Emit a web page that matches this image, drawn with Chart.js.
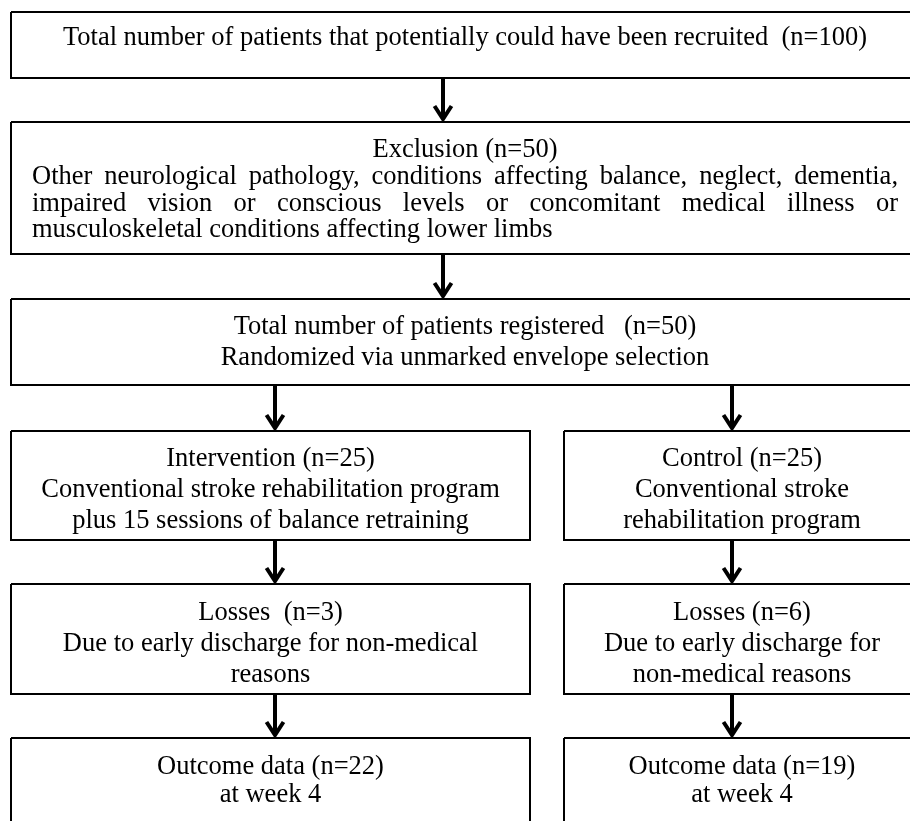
<!DOCTYPE html>
<html><head><meta charset="utf-8">
<script src="https://cdn.jsdelivr.net/npm/chart.js@4.4.1/dist/chart.umd.min.js"></script>
<style>html,body{margin:0;padding:0;background:#fff;overflow:hidden}#wrap{width:910px;height:821px;position:relative}</style>
</head><body><div id="wrap"><canvas id="c" width="910" height="821"></canvas></div>
<script>
// ---------- data ----------
const totalN = 100;
const excludedN = 50;
const registeredN = 50;
const armNames = ['Intervention', 'Control'];
const allocatedN = [25, 25];
const lossesN = [3, 6];
const outcomeN = [22, 19];
const exclusionReasons = 'Other neurological pathology, conditions affecting balance, neglect, dementia, impaired vision or conscious levels or concomitant medical illness or musculoskeletal conditions affecting lower limbs';
const armPrograms = [
  ['Conventional stroke rehabilitation program', 'plus 15 sessions of balance retraining'],
  ['Conventional stroke', 'rehabilitation program']
];
const lossReasons = [
  ['Due to early discharge for non-medical', 'reasons'],
  ['Due to early discharge for', 'non-medical reasons']
];
const outcomeTime = 'at week 4';

// ---------- layout (diagram units on 0..910 x 0..821 scales) ----------
const FONT = '26.5px "Liberation Serif", "Times New Roman", serif';
const colL = {l: 11, r: 530, cx: 270.5, ax: 275};
const colR = {l: 564, r: 920, cx: 742, ax: 732};
const full = {l: 11, r: 920, cx: 465, ax: 443};

const boxes = [
  {...full, t: 12, b: 78, lines: [{text: 'Total number of patients that potentially could have been recruited  (n=' + totalN + ')', y: 45}]},
  {...full, t: 122, b: 254, lines: [{text: 'Exclusion (n=' + excludedN + ')', y: 157}], para: {text: exclusionReasons, y0: 184, lh: 26.5, pl: 32, pr: 898}},
  {...full, t: 299, b: 385, lines: [{text: 'Total number of patients registered   (n=' + registeredN + ')', y: 334}, {text: 'Randomized via unmarked envelope selection', y: 365}]}
];
[colL, colR].forEach((c, i) => {
  boxes.push({...c, t: 431, b: 540, lines: [
    {text: armNames[i] + ' (n=' + allocatedN[i] + ')', y: 466},
    {text: armPrograms[i][0], y: 497}, {text: armPrograms[i][1], y: 528}]});
  boxes.push({...c, t: 584, b: 694, lines: [
    {text: 'Losses ' + (i === 0 ? ' ' : '') + '(n=' + lossesN[i] + ')', y: 620},
    {text: lossReasons[i][0], y: 651}, {text: lossReasons[i][1], y: 682}]});
  boxes.push({...c, t: 738, b: 845, lines: [
    {text: 'Outcome data (n=' + outcomeN[i] + ')', y: 774},
    {text: outcomeTime, y: 802}]});
});

const arrows = [
  {x: full.ax, y1: 78, y2: 122},
  {x: full.ax, y1: 254, y2: 299},
  {x: colL.ax, y1: 385, y2: 431}, {x: colR.ax, y1: 385, y2: 431},
  {x: colL.ax, y1: 540, y2: 584}, {x: colR.ax, y1: 540, y2: 584},
  {x: colL.ax, y1: 694, y2: 738}, {x: colR.ax, y1: 694, y2: 738}
];

// ---------- datasets ----------
const datasets = [];
boxes.forEach(bx => {
  datasets.push({
    data: [{x: bx.l, y: bx.t}, {x: bx.r, y: bx.t}, {x: bx.r, y: bx.b}, {x: bx.l, y: bx.b}, {x: bx.l, y: bx.t}],
    showLine: true, borderColor: '#000', borderWidth: 2, pointRadius: 0, fill: false,
    borderJoinStyle: 'miter', tension: 0
  });
});
arrows.forEach(a => {
  datasets.push({
    data: [{x: a.x, y: a.y1}, {x: a.x, y: a.y2 - 3}],
    showLine: true, borderColor: '#000', borderWidth: 4, pointRadius: 0, fill: false, borderCapStyle: 'butt'
  });
  datasets.push({
    data: [{x: a.x - 8.5, y: a.y2 - 16}, {x: a.x, y: a.y2 - 3}, {x: a.x + 8.5, y: a.y2 - 16}],
    showLine: true, borderColor: '#000', borderWidth: 4, pointRadius: 0, fill: false,
    borderJoinStyle: 'miter', borderCapStyle: 'butt'
  });
});

const textPlugin = {
  id: 'boxText',
  afterDatasetsDraw(chart) {
    const ctx = chart.ctx, xs = chart.scales.x, ys = chart.scales.y;
    ctx.save();
    ctx.font = FONT;
    ctx.fillStyle = '#000';
    ctx.textBaseline = 'alphabetic';
    boxes.forEach(bx => {
      ctx.textAlign = 'center';
      bx.lines.forEach(ln => ctx.fillText(ln.text, xs.getPixelForValue(bx.cx), ys.getPixelForValue(ln.y)));
      if (bx.para) {
        const p = bx.para;
        const left = xs.getPixelForValue(p.pl), right = xs.getPixelForValue(p.pr);
        const width = right - left;
        const words = p.text.split(' ');
        const rows = [];
        let cur = [];
        words.forEach(w => {
          const trial = cur.concat([w]).join(' ');
          if (ctx.measureText(trial).width > width && cur.length) { rows.push(cur); cur = [w]; }
          else cur.push(w);
        });
        if (cur.length) rows.push(cur);
        ctx.textAlign = 'left';
        rows.forEach((row, ri) => {
          const y = ys.getPixelForValue(p.y0 + ri * p.lh);
          if (ri === rows.length - 1 || row.length === 1) {
            ctx.fillText(row.join(' '), left, y);
          } else {
            const wsum = row.reduce((s, w) => s + ctx.measureText(w).width, 0);
            const gap = (width - wsum) / (row.length - 1);
            let x = left;
            row.forEach(w => { ctx.fillText(w, x, y); x += ctx.measureText(w).width + gap; });
          }
        });
      }
    });
    ctx.restore();
  }
};

new Chart(document.getElementById('c'), {
  type: 'scatter',
  data: {datasets},
  options: {
    responsive: false, animation: false, events: [],
    layout: {padding: 0},
    scales: {
      x: {type: 'linear', min: 0, max: 910, display: false},
      y: {type: 'linear', min: 0, max: 821, reverse: true, display: false}
    },
    plugins: {legend: {display: false}, tooltip: {enabled: false}}
  },
  plugins: [textPlugin]
});
</script></body></html>
